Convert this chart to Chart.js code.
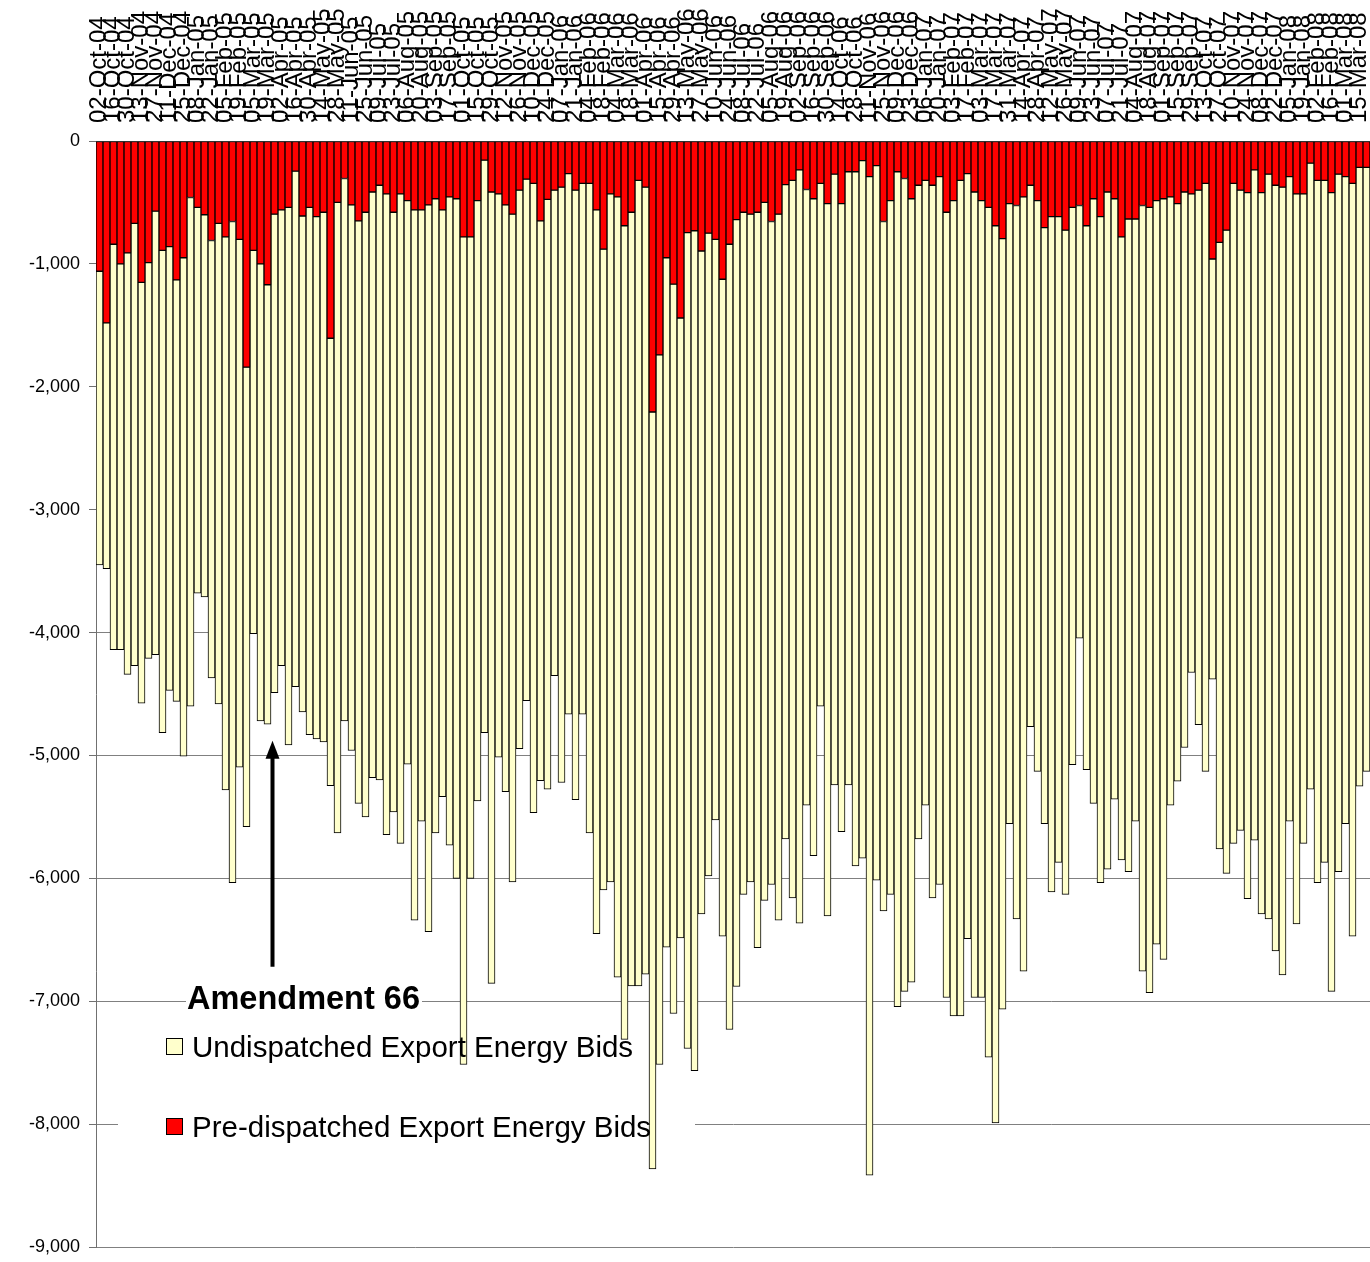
<!DOCTYPE html>
<html><head><meta charset="utf-8">
<script src="https://cdn.jsdelivr.net/npm/chart.js@4.4.1/dist/chart.umd.min.js"></script>
<style>
html,body{margin:0;padding:0;background:#fff;}
#wrap{position:relative;width:1370px;height:1262px;overflow:hidden;background:#fff;}
#c{position:absolute;left:0;top:0;}
.t{position:absolute;font-family:"Liberation Sans",Arial,sans-serif;color:#000;white-space:nowrap;line-height:1;}
.sw{position:absolute;width:15px;height:15px;border:1px solid #000;}
</style></head><body>
<div id="wrap">
<canvas id="c" width="1370" height="1262"></canvas>
<div class="t" style="left:187px;top:982px;font-size:32.5px;font-weight:bold;">Amendment 66</div>
<div class="sw" style="left:166px;top:1038px;background:#FFFFCC"></div>
<div class="t" style="left:192px;top:1032px;font-size:29.5px;">Undispatched Export Energy Bids</div>
<div class="sw" style="left:166px;top:1118px;background:#FF0000"></div>
<div class="t" style="left:192px;top:1112px;font-size:29.5px;">Pre-dispatched Export Energy Bids</div>
</div>
<script>
const weeks = ("02-Oct-04,09-Oct-04,16-Oct-04,23-Oct-04,30-Oct-04,06-Nov-04,13-Nov-04,20-Nov-04,27-Nov-04,04-Dec-04,11-Dec-04,18-Dec-04,25-Dec-04," +
"01-Jan-05,08-Jan-05,15-Jan-05,22-Jan-05,29-Jan-05,05-Feb-05,12-Feb-05,19-Feb-05,26-Feb-05,05-Mar-05,12-Mar-05,19-Mar-05,26-Mar-05," +
"02-Apr-05,09-Apr-05,16-Apr-05,23-Apr-05,30-Apr-05,07-May-05,14-May-05,21-May-05,28-May-05,04-Jun-05,11-Jun-05,18-Jun-05,25-Jun-05," +
"02-Jul-05,09-Jul-05,16-Jul-05,23-Jul-05,30-Jul-05,06-Aug-05,13-Aug-05,20-Aug-05,27-Aug-05,03-Sep-05,10-Sep-05,17-Sep-05,24-Sep-05," +
"01-Oct-05,08-Oct-05,15-Oct-05,22-Oct-05,29-Oct-05,05-Nov-05,12-Nov-05,19-Nov-05,26-Nov-05,03-Dec-05,10-Dec-05,17-Dec-05,24-Dec-05,31-Dec-05," +
"07-Jan-06,14-Jan-06,21-Jan-06,28-Jan-06,04-Feb-06,11-Feb-06,18-Feb-06,25-Feb-06,04-Mar-06,11-Mar-06,18-Mar-06,25-Mar-06," +
"01-Apr-06,08-Apr-06,15-Apr-06,22-Apr-06,29-Apr-06,06-May-06,13-May-06,20-May-06,27-May-06,03-Jun-06,10-Jun-06,17-Jun-06,24-Jun-06," +
"01-Jul-06,08-Jul-06,15-Jul-06,22-Jul-06,29-Jul-06,05-Aug-06,12-Aug-06,19-Aug-06,26-Aug-06,02-Sep-06,09-Sep-06,16-Sep-06,23-Sep-06,30-Sep-06," +
"07-Oct-06,14-Oct-06,21-Oct-06,28-Oct-06,04-Nov-06,11-Nov-06,18-Nov-06,25-Nov-06,02-Dec-06,09-Dec-06,16-Dec-06,23-Dec-06,30-Dec-06," +
"06-Jan-07,13-Jan-07,20-Jan-07,27-Jan-07,03-Feb-07,10-Feb-07,17-Feb-07,24-Feb-07,03-Mar-07,10-Mar-07,17-Mar-07,24-Mar-07,31-Mar-07," +
"07-Apr-07,14-Apr-07,21-Apr-07,28-Apr-07,05-May-07,12-May-07,19-May-07,26-May-07,02-Jun-07,09-Jun-07,16-Jun-07,23-Jun-07,30-Jun-07," +
"07-Jul-07,14-Jul-07,21-Jul-07,28-Jul-07,04-Aug-07,11-Aug-07,18-Aug-07,25-Aug-07,01-Sep-07,08-Sep-07,15-Sep-07,22-Sep-07,29-Sep-07," +
"06-Oct-07,13-Oct-07,20-Oct-07,27-Oct-07,03-Nov-07,10-Nov-07,17-Nov-07,24-Nov-07,01-Dec-07,08-Dec-07,15-Dec-07,22-Dec-07,29-Dec-07," +
"05-Jan-08,12-Jan-08,19-Jan-08,26-Jan-08,02-Feb-08,09-Feb-08,16-Feb-08,23-Feb-08,01-Mar-08,08-Mar-08,15-Mar-08,22-Mar-08").split(",");

const preDispatched = [
-1060,-1480,-840,-1000,-910,-670,-1150,-990,-570,-890,
-860,-1130,-950,-460,-540,-600,-810,-670,-780,-655,
-800,-1840,-890,-1000,-1170,-595,-560,-540,-245,-610,
-540,-615,-580,-1605,-500,-305,-520,-650,-580,-415,
-360,-430,-580,-430,-485,-560,-560,-520,-470,-560,
-455,-470,-780,-780,-485,-155,-415,-430,-520,-595,
-400,-310,-345,-650,-475,-400,-375,-265,-400,-345,
-345,-560,-880,-430,-455,-690,-580,-320,-375,-2205,
-1740,-950,-1165,-1440,-745,-730,-895,-750,-800,-1125,
-840,-640,-580,-595,-580,-500,-655,-595,-355,-320,
-235,-395,-470,-345,-510,-270,-510,-250,-250,-160,
-290,-200,-655,-485,-250,-305,-470,-360,-320,-360,
-290,-580,-485,-320,-265,-415,-485,-540,-690,-795,
-510,-525,-455,-360,-485,-705,-615,-615,-725,-540,
-525,-690,-470,-615,-415,-470,-780,-635,-635,-525,
-540,-485,-470,-455,-510,-415,-430,-400,-345,-960,
-825,-725,-345,-400,-420,-235,-420,-270,-360,-375,
-290,-430,-430,-180,-320,-320,-420,-270,-290,-345,
-215,-215];

const undispatched = [
-2390,-2000,-3300,-3140,-3430,-3600,-3425,-3220,-3610,-3925,
-3610,-3430,-4055,-4140,-3140,-3110,-3560,-3910,-4500,-5380,
-4295,-3740,-3120,-3720,-3575,-3895,-3710,-4375,-4195,-4035,
-4290,-4250,-4310,-3640,-5130,-4415,-4440,-4740,-4920,-4765,
-4840,-5215,-4880,-5285,-4585,-5780,-4975,-5915,-5160,-4775,
-5275,-5530,-6735,-5220,-4885,-4660,-6440,-4585,-4775,-5435,
-4545,-4245,-5120,-4555,-4800,-3950,-4845,-4400,-4960,-4320,
-5285,-5890,-5215,-5600,-6350,-6620,-6295,-6555,-6405,-6160,
-5775,-5610,-5935,-5045,-6640,-6835,-5395,-5230,-4725,-5345,
-6390,-6240,-5550,-5435,-5985,-5680,-5395,-5745,-5325,-5840,
-6130,-5010,-5345,-4255,-5795,-4970,-5110,-4990,-5650,-5675,
-8125,-5815,-5610,-5645,-6795,-6615,-6375,-5320,-5085,-5800,
-5760,-6390,-6635,-6800,-6225,-6555,-6485,-6915,-7300,-6270,
-5045,-5805,-6300,-4405,-4645,-4850,-5495,-5255,-5405,-4535,
-3520,-4425,-4920,-5420,-5510,-4885,-5070,-5310,-4900,-6230,
-6390,-6050,-6190,-4950,-4700,-4520,-3895,-4350,-4785,-3420,
-4935,-5235,-5370,-5210,-5745,-5455,-5870,-6060,-6230,-6410,
-5245,-5940,-5285,-5095,-5715,-5550,-6500,-5675,-5265,-6125,
-5035,-4915];

const yTicks = [0,-1000,-2000,-3000,-4000,-5000,-6000,-7000,-8000,-9000];

Chart.defaults.font.family = '"Liberation Sans", Arial, sans-serif';
Chart.defaults.color = '#000';

const X_FONT = 24;

const deco = {
  id: 'deco',
  beforeDatasetsDraw(chart) {
    const c = chart.ctx, ys = chart.scales.y;
    c.save();
    c.fillStyle = '#fff';
    c.fillRect(186, ys.getPixelForValue(-6870), 236, 28);
    c.fillRect(118, ys.getPixelForValue(-7160), 577, 215);
    c.restore();
  },
  afterDatasetsDraw(chart) {
    const c = chart.ctx, xs = chart.scales.x, ys = chart.scales.y;
    const x = Math.round(xs.getPixelForValue(24.6)) + 0.5;
    const tip = ys.getPixelForValue(-4880);
    const bot = ys.getPixelForValue(-6720);
    c.save();
    c.strokeStyle = '#000'; c.fillStyle = '#000';
    c.lineWidth = 4;
    c.beginPath(); c.moveTo(x, bot); c.lineTo(x, tip + 14); c.stroke();
    c.beginPath(); c.moveTo(x, tip); c.lineTo(x - 7, tip + 18); c.lineTo(x + 7, tip + 18); c.closePath(); c.fill();
    c.restore();
  }
};

new Chart(document.getElementById('c'), {
  type: 'bar',
  data: {
    labels: weeks,
    datasets: [
      { label: 'Pre-dispatched Export Energy Bids', data: preDispatched, backgroundColor: '#FF0000',
        borderColor: '#000', borderWidth: 1, borderSkipped: false, barPercentage: 1, categoryPercentage: 1 },
      { label: 'Undispatched Export Energy Bids', data: undispatched, backgroundColor: '#FFFFCC',
        borderColor: '#000', borderWidth: 1, borderSkipped: false, barPercentage: 1, categoryPercentage: 1 }
    ]
  },
  options: {
    responsive: false,
    animation: false,
    layout: { padding: { left: 0, right: 0, top: 0, bottom: 15 } },
    plugins: { legend: { display: false }, tooltip: { enabled: false } },
    scales: {
      x: {
        position: 'top', stacked: true, offset: true,
        grid: { display: false, drawTicks: false },
        border: { display: true, color: '#707070', width: 1 },
        ticks: {
          autoSkip: false, minRotation: 90, maxRotation: 90, padding: 18,
          labelOffset: X_FONT * 1.2,
          font: { size: X_FONT }, color: '#000',
          callback: function (v, i) { return i % 2 === 0 ? this.getLabelForValue(v) : ''; }
        },
        afterFit(s) { s.height = 141; s.paddingLeft = 0; s.paddingRight = 0; }
      },
      y: {
        stacked: true, min: -9000, max: 0,
        afterBuildTicks(s) { s.ticks = yTicks.map(v => ({ value: v })); },
        ticks: { padding: 9, font: { size: 18 }, color: '#000',
          callback: v => Number(v).toLocaleString('en-US') },
        grid: { color: '#808080', lineWidth: 1, tickLength: 7, tickColor: '#707070', drawTicks: true },
        border: { display: true, color: '#707070', width: 1 },
        afterFit(s) { s.width = 96; s.paddingTop = 0; s.paddingBottom = 0; }
      }
    }
  },
  plugins: [deco]
});
</script>
</body></html>
